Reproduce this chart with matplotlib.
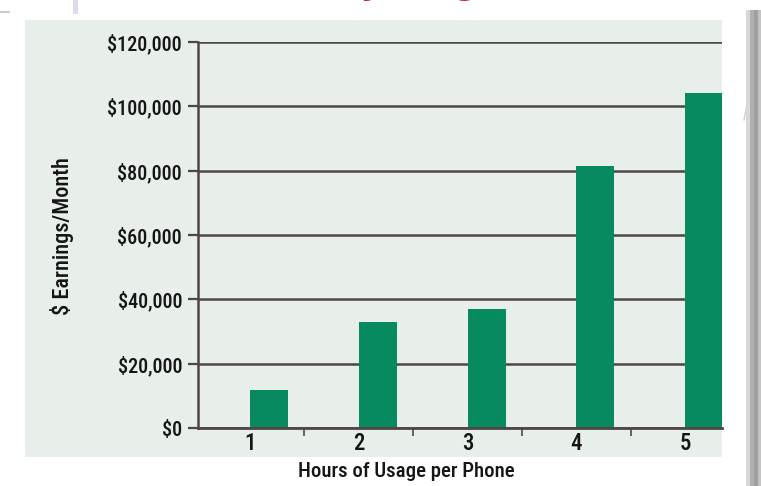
import matplotlib
matplotlib.use("Agg")
import matplotlib.pyplot as plt
from matplotlib import font_manager
from matplotlib.patches import Rectangle
from matplotlib.lines import Line2D
from matplotlib.ticker import FuncFormatter

hours = [1, 2, 3, 4, 5]
hour_labels = ["1", "2", "3", "4", "5"]
earnings = [12000, 33000, 37000, 81500, 104000]
y_ticks = [0, 20000, 40000, 60000, 80000, 100000, 120000]

names = {f.name for f in font_manager.fontManager.ttflist}
FONT = 'DejaVu Sans'
for cand in ['Roboto Condensed', 'Liberation Sans Narrow', 'Open Sans Condensed']:
    if cand in names:
        FONT = cand
        break
plt.rcParams['font.family'] = [FONT, 'DejaVu Sans']
WEIGHT = 'medium'

W, H = 761, 486
fig = plt.figure(figsize=(W / 100, H / 100), dpi=100)
fig.patch.set_facecolor('white')

def fx(px):
    return px / W

def fy(py):
    return 1 - py / H

# panel background
fig.patches.append(Rectangle((fx(25), fy(457)), fx(722) - fx(25), fy(20) - fy(457),
                             transform=fig.transFigure, facecolor='#e8eeea',
                             edgecolor='none', zorder=-5))
# right shadow
for x0, x1, c in [(746, 750, '#d8d8d8'), (750, 754, '#b0b0b0'), (754, 758, '#a0a0a0'), (758, 761, '#c4c4c4')]:
    fig.patches.append(Rectangle((fx(x0), 0), fx(x1) - fx(x0), fy(10),
                                 transform=fig.transFigure, facecolor=c,
                                 edgecolor='none', zorder=-5))
fig.lines.append(Line2D([fx(761), fx(744)], [fy(30), fy(120)], transform=fig.transFigure,
                        color='#d0d0d0', lw=1.0, zorder=-5))
# small marks top-left
fig.patches.append(Rectangle((fx(73), fy(14)), fx(5), fy(0) - fy(14),
                             transform=fig.transFigure, facecolor='#dcdcee',
                             edgecolor='none', zorder=-5))
fig.lines.append(Line2D([0, fx(9)], [fy(12), fy(12)], transform=fig.transFigure,
                        color='#c0c0c0', lw=1.2, zorder=-5))

# title (cut off at the top, as in the reference)
fig.text(fx(500), 1 + 5.4 / H, "Revenue by Usage", ha='right', va='baseline',
         fontsize=22, fontstyle='italic', fontweight='bold', color='#e0203a',
         family=['DejaVu Sans'])

left, right = 198, 722
bottom, top = 428.3, 41.7
ax = fig.add_axes([fx(left), fy(bottom), fx(right) - fx(left), fy(top) - fy(bottom)])
ax.set_zorder(2)
ax.set_facecolor('none')

ax.bar(hours, earnings, width=0.35, align='edge', color='#078a5f', zorder=3)

ax.set_xlim(0.522, 5.34)
ax.set_ylim(0, 120000)

gc = '#4f4646'
ax.set_yticks(y_ticks)
ax.yaxis.set_major_formatter(FuncFormatter(lambda v, p: "${:,.0f}".format(v)))
ax.grid(axis='y', color=gc, linewidth=1.8, zorder=1)
ax.set_axisbelow(True)
ax.tick_params(axis='y', length=7.5, width=1.6, color=gc, pad=4, labelsize=14.5,
               labelcolor='#151515')

ax.set_xticks(hours)
ax.set_xticklabels(hour_labels)
ax.set_xticks([1.5, 2.5, 3.5, 4.5], minor=True)
ax.tick_params(axis='x', which='major', length=0, pad=3, labelsize=16.5, labelcolor='#151515')
ax.tick_params(axis='x', which='minor', length=5.5, width=1.4, color='#6a6060', direction='out')
for lab in ax.get_xticklabels() + ax.get_yticklabels():
    lab.set_fontweight(WEIGHT)

for s in ['top', 'right']:
    ax.spines[s].set_visible(False)
ax.spines['left'].set_color(gc)
ax.spines['left'].set_linewidth(1.8)
ax.spines['bottom'].set_color(gc)
ax.spines['bottom'].set_linewidth(2.0)
ax.spines['bottom'].set_zorder(4)

ax.set_xlabel("Hours of Usage per Phone", fontsize=15, color='#151515', fontweight=WEIGHT)
ax.xaxis.set_label_coords((406 - left) / (right - left), -(471 - bottom) / (bottom - top))
ax.xaxis.label.set_va('center')
ax.set_ylabel("$ Earnings/Month", fontsize=16, color='#151515', fontweight=WEIGHT)
ax.yaxis.set_label_coords(-(left - 62) / (right - left), (bottom - 236) / (bottom - top))
ax.yaxis.label.set_va('center')

fig.savefig("out.png", dpi=100)
